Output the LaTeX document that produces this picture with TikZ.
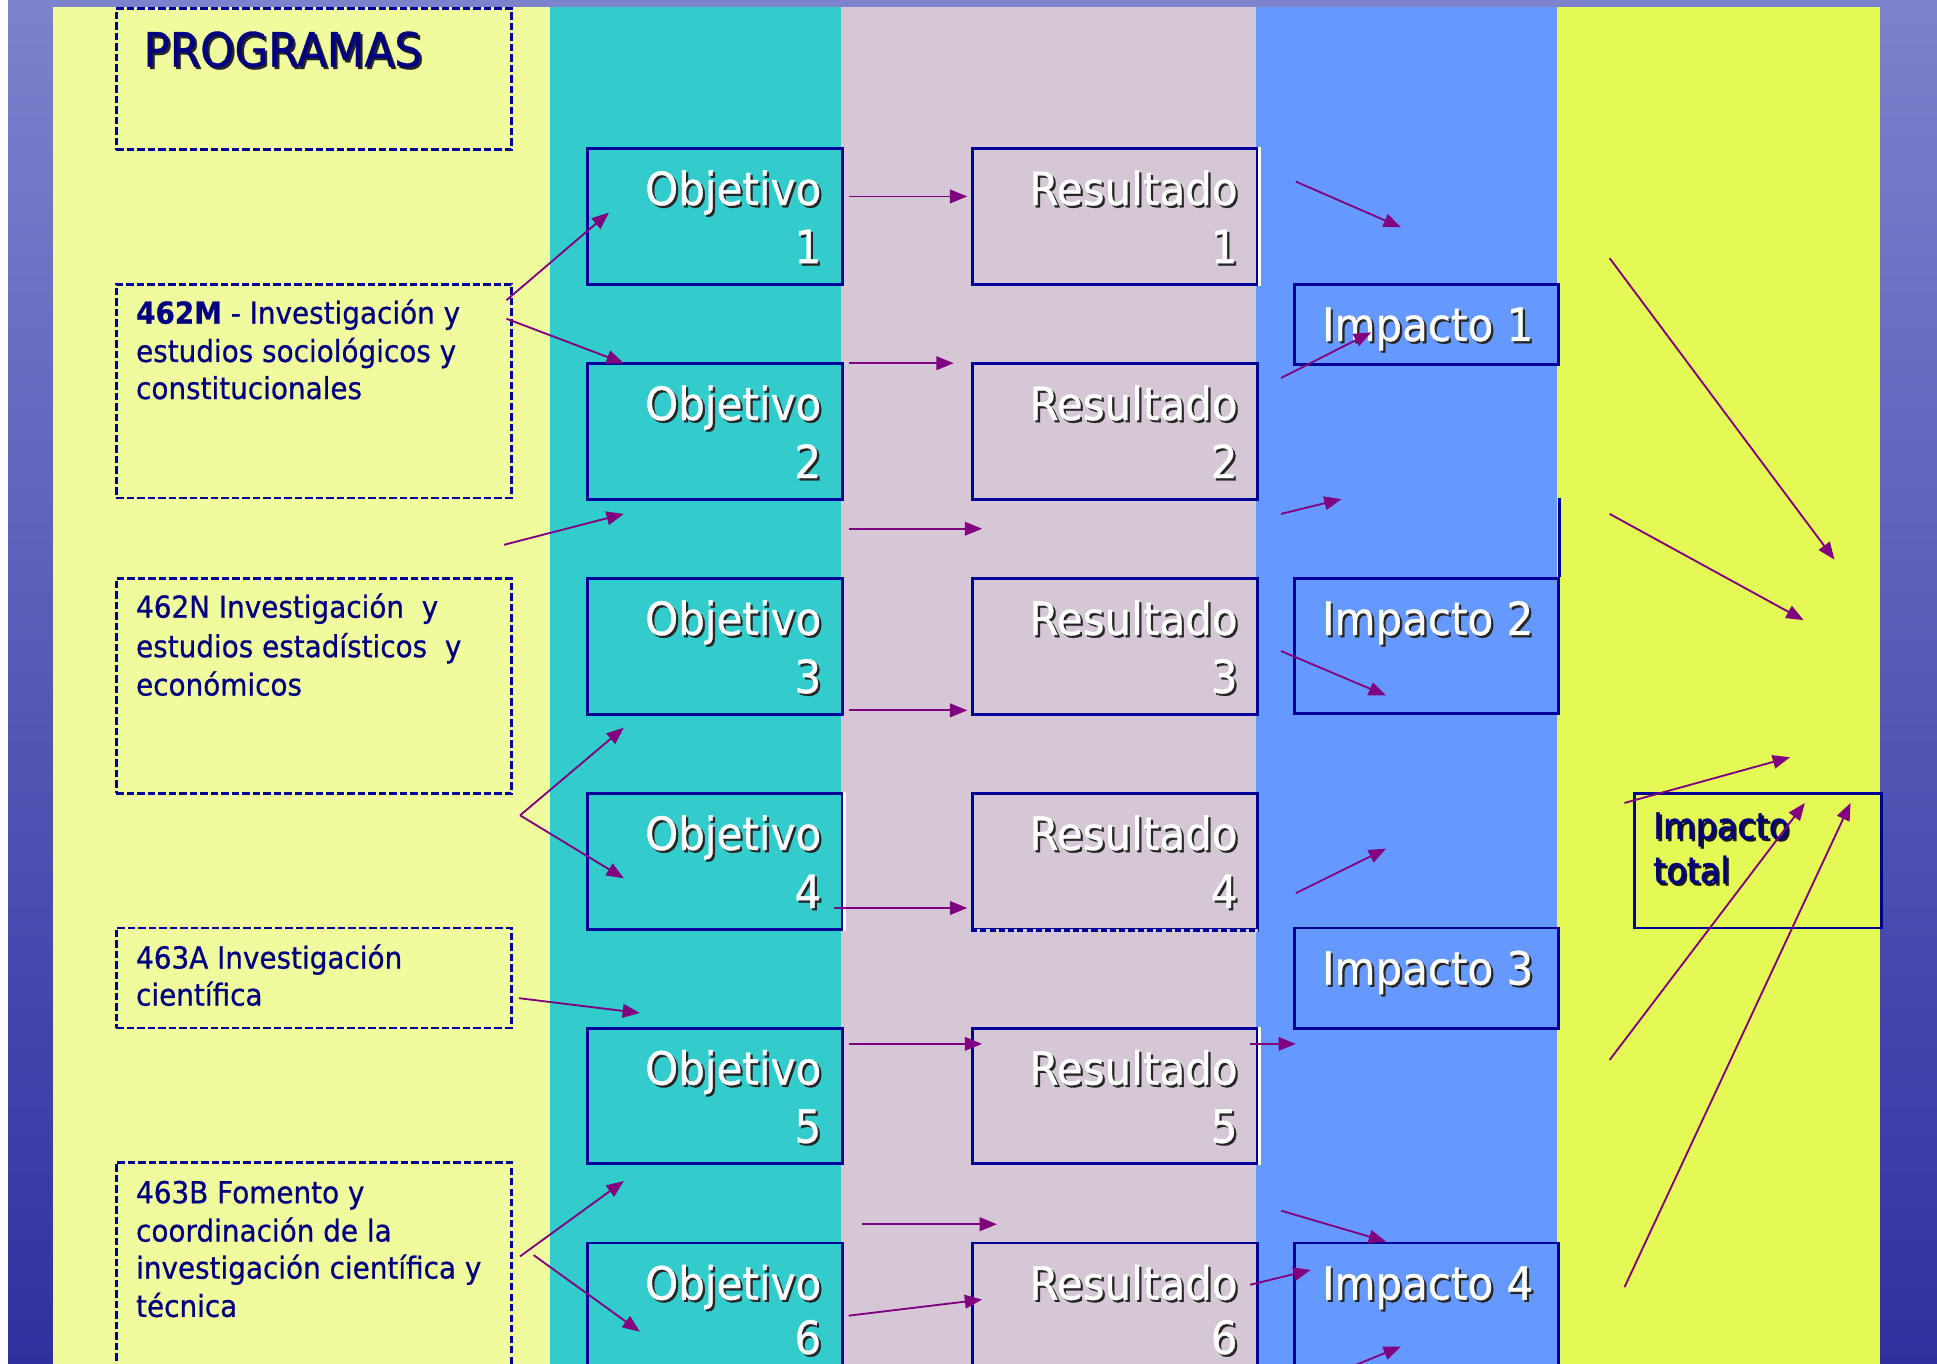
\documentclass[tikz,border=0pt]{standalone}
\usepackage{fontspec}
\setmainfont{DejaVu Sans}[FakeStretch=0.92,FakeBold=0.7]
\usetikzlibrary{arrows.meta}
\definecolor{pale}{HTML}{F0FB9E}
\definecolor{tealc}{HTML}{33CCCC}
\definecolor{mauve}{HTML}{D5C7D6}
\definecolor{bluec}{HTML}{6699FF}
\definecolor{limec}{HTML}{E4F955}
\definecolor{bnavy}{HTML}{000099}
\definecolor{tnavy}{HTML}{000080}
\definecolor{arrowc}{HTML}{800080}
\newcommand\shtx[2][black!85]{\leavevmode\rlap{\kern1.8pt\raisebox{-1.8pt}{\color{#1}#2}}#2}
\begin{document}
\begin{tikzpicture}[x=1pt,y=-1pt,
  progbox/.style={draw=bnavy,line width=2.2pt,dash pattern=on 6pt off 2.5pt,anchor=north west,inner sep=0pt,minimum width=320pt},
  anybox/.style={draw=bnavy,line width=2.4pt,anchor=north west,inner sep=0pt},
  objbox/.style={anybox,fill=tealc,minimum width=207pt,minimum height=110pt},
  resbox/.style={anybox,fill=mauve,minimum width=231pt,minimum height=110pt},
  impbox/.style={anybox,fill=bluec,minimum width=213pt},
  totbox/.style={anybox,fill=limec,minimum width=200pt,minimum height=109pt},
  bigtxt/.style={text=white,font=\fontsize{37}{44}\selectfont,inner sep=0pt},
  smalltxt/.style={text=tnavy,font=\fontsize{24.5}{30}\selectfont,inner sep=0pt,anchor=base west},
  tottxt/.style={text=tnavy,font=\fontsize{29.4}{36}\selectfont,inner sep=0pt,anchor=base west},
  progtxt/.style={text=tnavy,font=\fontsize{38.4}{46}\selectfont,inner sep=0pt,anchor=base west},
  arr/.style={draw=arrowc,line width=1.5pt,-{Triangle[length=14pt,width=11pt]}}
]
\useasboundingbox (0,0) rectangle (1568,1104);
\clip (0,0) rectangle (1568,1104);
% background
\fill[white] (0,0) rectangle (1568,1104);
\shade[top color={rgb,255:red,125;green,130;blue,205},bottom color={rgb,255:red,48;green,48;blue,160}] (6.5,0) rectangle (1568,1104);
% columns
\fill[pale]  (43,5.5)   rectangle (445,1104);
\fill[tealc] (445,5.5)  rectangle (681,1104);
\fill[mauve] (681,5.5)  rectangle (1017,1104);
\fill[bluec] (1017,5.5) rectangle (1260,1104);
\fill[limec] (1260,5.5) rectangle (1522,1104);

% program boxes
\node[progbox,minimum height=114pt] (pbox) at (93,6) {};
\node[progbox,minimum height=173pt] (p1) at (93,229) {};
\node[progbox,minimum height=174pt] (p2) at (93,467) {};
\node[progbox,minimum height=81pt]  (p3) at (93,750) {};
\node[progbox,minimum height=200pt] (p4) at (93,940) {};

\node[progtxt] (ptitle) at (116,54) {\shtx{PROGRAMAS}};
\node[smalltxt] (p1a) at (110,262) {\textbf{462M} - Investigación y};
\node[smalltxt] (p1b) at (110,293) {estudios sociológicos y};
\node[smalltxt] (p1c) at (110,323) {constitucionales};
\node[smalltxt] (p2a) at (110,500) {462N Investigación\ \ y};
\node[smalltxt] (p2b) at (110,532) {estudios estadísticos\ \ y};
\node[smalltxt] (p2c) at (110,563) {económicos};
\node[smalltxt] (p3a) at (110,784) {463A Investigación};
\node[smalltxt] (p3b) at (110,814) {científica};
\node[smalltxt] (p4a) at (110,974) {463B Fomento y};
\node[smalltxt] (p4b) at (110,1005) {coordinación de la};
\node[smalltxt] (p4c) at (110,1035) {investigación científica y};
\node[smalltxt] (p4d) at (110,1066) {técnica};

% objetivo and resultado boxes
\foreach \i/\t/\d in {1/119/94,2/293/94,3/467/94,4/641/94,5/831/94,6/1005/91}{
  \node[objbox] (obj\i) at (474,\t) {};
  \node[resbox] (res\i) at (786,\t) {};
  \node[bigtxt,anchor=base east] (obj\i a) at (665,\t+47) {\shtx{Objetivo}};
  \node[bigtxt,anchor=base east] (obj\i b) at (665,\t+\d) {\shtx{\i}};
  \node[bigtxt,anchor=base east] (res\i a) at (1002,\t+47) {\shtx{Resultado}};
  \node[bigtxt,anchor=base east] (res\i b) at (1002,\t+\d) {\shtx{\i}};
}
% edge artefacts
\draw[white,line width=2.2pt] (res1.north east) -- (res1.south east);
\draw[white,line width=2.2pt] (obj4.north east) -- (obj4.south east);
\draw[white,line width=2.2pt] (res5.north east) -- (res5.south east);
\draw[mauve,line width=2.8pt] (res4.south west) -- (res4.south east);
\draw[bnavy,line width=2.2pt,dash pattern=on 5pt off 2.5pt] (res4.south west) -- (res4.south east);

% impacto boxes
\node[impbox,minimum height=65pt]  (imp1) at (1047,229) {};
\node[impbox,minimum height=109pt] (imp2) at (1047,467) {};
\node[impbox,minimum height=81pt]  (imp3) at (1047,750) {};
\node[impbox,minimum height=130pt] (imp4) at (1047,1005) {};
\draw[bnavy,line width=2.4pt] (imp2.north east) -- ++(0,-64);
\foreach \i/\t in {1/229,2/467,3/750,4/1005}{
  \node[bigtxt,anchor=base west] (imp\i a) at (1070,\t+47) {\shtx{Impacto \i}};
}
% impacto total
\node[totbox] (tot) at (1322,641) {};
\node[tottxt] (tota) at (1338,679) {\shtx[black!90]{Impacto}};
\node[tottxt] (totb) at (1338,715) {\shtx[black!90]{total}};

% arrows
\foreach \n/\sx/\sy/\ex/\ey in {
  L1/410/243/493/172, L2/410/258/505/294, L3/408/441/505/416,
  L4/421/660/505/589, L5/421/660/505/711, L6/420/808/518/820,
  L7/421/1017/505/956, L8/432/1016/518/1078,
  M1/687/159/783/159, M2/687/294/772/294, M3/687/428/795/428,
  M4/687/575/783/575, M5/675/735/783/735, M6/687/845/795/845,
  M7/698/991/807/991, M8/687/1065/795/1052,
  B1/1049/147/1134/184, B2/1037/306/1110/269, B3/1037/416/1086/404,
  B4/1037/527/1122/563, B5/1049/723/1122/687, B6/1012/845/1049/845,
  B7/1037/980/1122/1005, B8/1012/1040/1061/1028, B9/1085/1110/1134/1090,
  Y1/1303/209/1485/453, Y2/1303/416/1460/502, Y3/1315/650/1449/613,
  Y4/1303/858/1461/650, Y5/1315/1042/1498/650}{
  \coordinate (s\n) at (\sx,\sy);
  \coordinate (e\n) at (\ex,\ey);
  \draw[arr] (s\n) -- (e\n);
}
\end{tikzpicture}
\end{document}
